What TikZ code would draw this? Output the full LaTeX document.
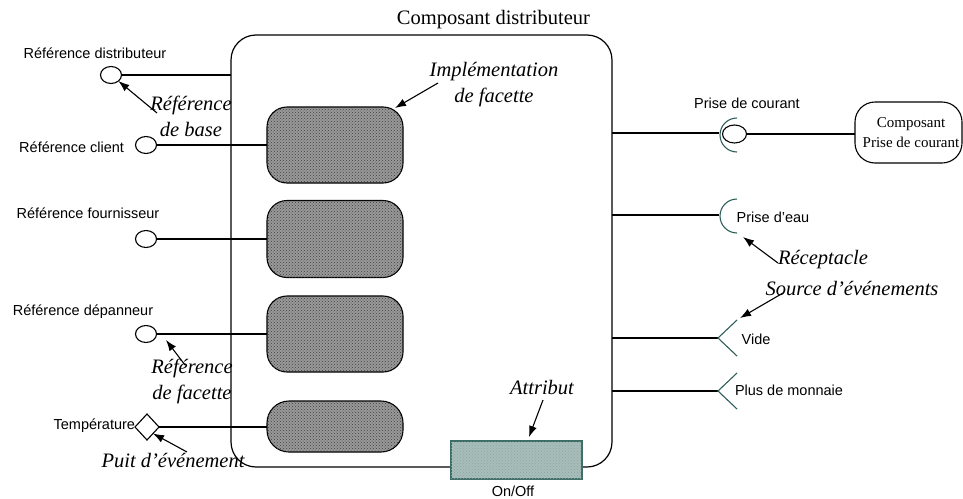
\documentclass[tikz,border=0pt]{standalone}
\usepackage{fontspec}
\setmainfont{Liberation Serif}
\setsansfont{Liberation Sans}
\usetikzlibrary{shapes.geometric,arrows.meta,patterns}
\definecolor{recol}{HTML}{2E5E5A}
\definecolor{attrfill}{HTML}{A7BDB9}
\definecolor{attrline}{HTML}{3D6B66}
\begin{document}
\begin{tikzpicture}[x=1pt,y=-1pt,
  every node/.style={inner sep=0pt, outer sep=0pt},
  wire/.style={line width=1.1pt},
  lab/.style={font=\sffamily\fontsize{14.5}{16}\selectfont},
  ann/.style={font=\itshape\fontsize{20.5}{26}\selectfont, align=center},
  ptr/.style={line width=1.1pt, -{Latex[length=11pt,width=8pt]}},
  facet/.style={draw, line width=1.1pt, fill=black!40, postaction={pattern=crosshatch dots, pattern color=black!75}, rounded corners=20pt, minimum width=136pt},
  port/.style={draw, ellipse, line width=1.1pt, fill=white, minimum width=21pt, minimum height=17pt},
  rec/.style={draw=recol, line width=1.1pt},
]
\useasboundingbox (0,0) rectangle (963,498);

% main component
\node[draw, line width=1.2pt, rounded corners=25pt, minimum width=381pt, minimum height=432pt] (main) at (421.5,251) {};
\node[font=\fontsize{20.5}{24}\selectfont] (title) at (493.5,20) {Composant distributeur};

% facet implementations
\node[facet, minimum height=76pt] (f1) at (335,145) {};
\node[facet, minimum height=77pt] (f2) at (335,239) {};
\node[facet, minimum height=76pt] (f3) at (335,334) {};
\node[facet, minimum height=51pt, rounded corners=22pt] (f4) at (335,426.5) {};

% attribute
\node[draw=attrline, line width=1.1pt, fill=attrfill, postaction={pattern=crosshatch dots, pattern color=attrline!60}, minimum width=131pt, minimum height=38pt] (attr) at (516.5,460) {};
\node[lab] (onoff) at (513,491) {On/Off};

% left ports
\node[port] (pd) at (111,75) {};
\node[port] (pc) at (146,145) {};
\node[port] (pf) at (146,239) {};
\node[port] (pp) at (146,334) {};
\node[draw, diamond, line width=1.1pt, fill=white, minimum width=24pt, minimum height=26pt, aspect=1] (pt) at (147,427) {};

\draw[wire] (pd.east) -- (pd.east -| main.west);
\draw[wire] (pc.east) -- (f1.west);
\draw[wire] (pf.east) -- (f2.west);
\draw[wire] (pp.east) -- (f3.west);
\draw[wire] (pt.east) -- (pt.east -| f4.west);

\node[lab] (lpd) at (95,53) {Référence distributeur};
\node[lab, anchor=east] (lpc) at (124,147) {Référence client};
\node[lab] (lpf) at (88,213) {Référence fournisseur};
\node[lab] (lpp) at (83,312) {Référence dépanneur};
\node[lab, anchor=east] (lpt) at (135,426) {Température};

% annotations left
\node[ann] (abase) at (191,116) {Référence\\de base};
\coordinate (abaseS) at (157,113);
\draw[ptr] (abaseS) -- (pd.south east);
\node[ann] (afac) at (192,381) {Référence\\de facette};
\coordinate (afacS) at (185,365);
\coordinate (afacE) at (166,340);
\draw[ptr] (afacS) -- (afacE);
\node[ann] (apuit) at (173,460) {Puit d’événement};
\coordinate (apuitS) at (187,452);
\draw[ptr] (apuitS) -- (pt.south east);

\node[ann] (aimpl) at (494,85) {Implémentation\\de facette};
\coordinate (aimplS) at (438,83);
\coordinate (aimplE) at (395,108);
\draw[ptr] (aimplS) -- (aimplE);
\node[ann] (aattr) at (542,388) {Attribut};
\coordinate (aattrS) at (543,400);
\coordinate (aattrE) at (529,437);
\draw[ptr] (aattrS) -- (aattrE);

% right side: facet plug "Prise de courant"
\coordinate (rc) at (719,133);
\coordinate (rw) at (719,215);
\coordinate (rv) at (718,338);
\coordinate (rm) at (718,391);

\draw[wire] (rc -| main.east) -- (rc);
\draw[rec] (737,118) arc[start angle=90, end angle=270, radius=17pt];
\node[port, minimum width=24pt, minimum height=18pt] (plug) at (734.5,134) {};
\node[draw, line width=1.1pt, rounded corners=20pt, minimum width=107pt, minimum height=61pt] (comp) at (908.5,132.5) {};
\node[align=center, font=\fontsize{15}{20}\selectfont] (compt) at (911,133) {Composant\\Prise de courant};
\draw[wire] (plug.east) -- (plug.east -| comp.west);
\node[lab] (lrc) at (747,103) {Prise de courant};

% Prise d'eau
\draw[wire] (rw -| main.east) -- (rw);
\draw[rec] (737,199) arc[start angle=90, end angle=270, radius=17pt];
\node[lab] (lrw) at (773,217) {Prise d'eau};

% event sources
\draw[wire] (rv -| main.east) -- (rv);
\draw[rec] (737,320) -- (rv) -- (737,356);
\node[lab] (lrv) at (756,339) {Vide};
\draw[wire] (rm -| main.east) -- (rm);
\draw[rec] (737,373) -- (rm) -- (737,409);
\node[lab] (lrm) at (789,390) {Plus de monnaie};

% annotations right
\node[ann] (arec) at (823,260) {Réceptacle};
\coordinate (arecS) at (778,263);
\coordinate (arecE) at (743,237);
\draw[ptr] (arecS) -- (arecE);
\node[ann] (asrc) at (852,288) {Source d’événements};
\coordinate (asrcS) at (783,293);
\coordinate (asrcE) at (740,318);
\draw[ptr] (asrcS) -- (asrcE);
\end{tikzpicture}
\end{document}
